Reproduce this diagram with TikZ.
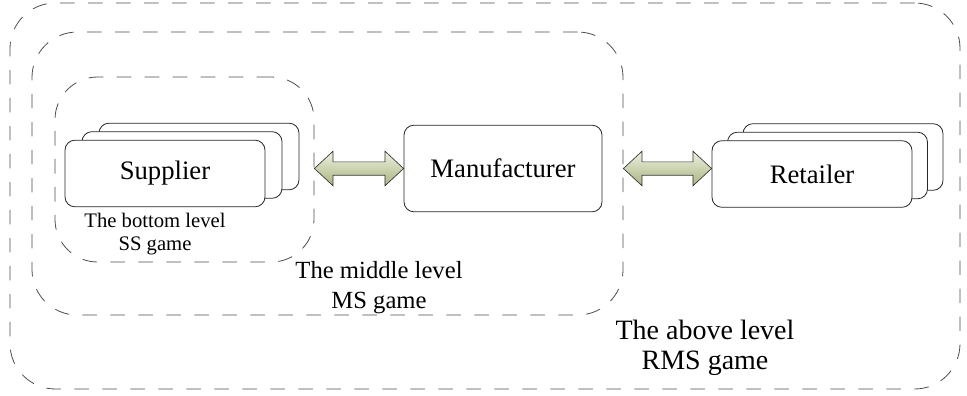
\documentclass[tikz,border=0pt]{standalone}
\usepackage{fontspec}
\setmainfont{Liberation Serif}
\usetikzlibrary{calc}
\definecolor{arrowtop}{RGB}{238,241,226}
\definecolor{arrowbot}{RGB}{168,180,126}
\tikzset{
  unit/.style={draw=black!85, fill=white, line width=0.6pt, rounded corners=7.5pt,
    minimum width=150pt, minimum height=50pt, inner sep=0pt, font=\fontsize{20}{24}\selectfont},
  levelbox/.style={draw=black!70, line width=0.6pt, dash pattern=on 11pt off 10pt,
    rounded corners=34pt, inner sep=0pt},
  levellabel/.style={align=center, inner sep=0pt},
  blockarrow/.style={draw=black!80, line width=0.5pt, top color=arrowtop, bottom color=arrowbot}
}
% fat double arrow between two anchors
\newcommand{\gamearrow}[2]{%
  \path[blockarrow] let \p1=(#1), \p2=(#2), \p3=(man.center) in
    (\x1,\y3) -- (\x1+14pt,\y3+13pt) -- (\x1+14pt,\y3+5pt) -- (\x2-14pt,\y3+5pt)
    -- (\x2-14pt,\y3+13pt) -- (\x2,\y3) -- (\x2-14pt,\y3-13pt) -- (\x2-14pt,\y3-5pt)
    -- (\x1+14pt,\y3-5pt) -- (\x1+14pt,\y3-13pt) -- cycle;}
\begin{document}
\begin{tikzpicture}[x=0.75pt,y=-0.75pt]
\useasboundingbox (0,0) rectangle (967,396);

\node[levelbox, minimum width=712.5pt, minimum height=289.5pt] (rms) at (485,196) {};
\node[levelbox, minimum width=443.25pt, minimum height=212.25pt] (ms) at (327.5,173.5) {};
\node[levelbox, minimum width=194.25pt, minimum height=138.75pt, rounded corners=32pt] (ss) at (184.5,169.5) {};

\foreach \d in {2,1}
  \node[unit] at (165+17*\d,173.5-8.5*\d) {};
\node[unit] (sup) at (165,173.5) {Supplier};

\node[unit, minimum width=148.5pt, minimum height=65pt] (man) at (503,168.5) {Manufacturer};

\foreach \d in {2,1}
  \node[unit] at (812+15.5*\d,174-8.5*\d) {};
\node[unit] (ret) at (812,174) {Retailer};

\gamearrow{ss.east}{man.west}
\gamearrow{ms.east}{ret.west}

\node[levellabel, font=\fontsize{15.5}{17}\selectfont] (sslabel) at (155,234) {The bottom level\\SS game};
\node[levellabel, font=\fontsize{18.5}{22.5}\selectfont] (mslabel) at (379,288) {The middle level\\MS game};
\node[levellabel, font=\fontsize{21}{22.5}\selectfont] (rmslabel) at (705,348) {The above level\\RMS game};
\end{tikzpicture}
\end{document}
